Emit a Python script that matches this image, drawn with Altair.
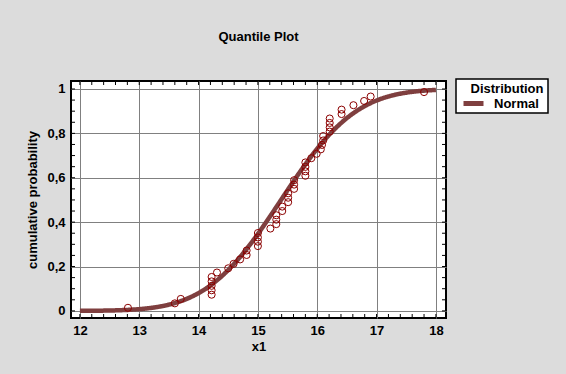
import altair as alt
import pandas as pd

# ---- data ----
x_values = [12.81, 13.60, 13.70, 14.22, 14.22, 14.22, 14.22, 14.22, 14.31, 14.50,
            14.59, 14.70, 14.81, 14.81, 15.00, 15.00, 15.00, 15.00, 15.21, 15.31,
            15.31, 15.31, 15.41, 15.41, 15.51, 15.51, 15.51, 15.61, 15.61, 15.61,
            15.80, 15.80, 15.80, 15.80, 15.90, 15.99, 16.06, 16.08, 16.10, 16.10,
            16.21, 16.21, 16.21, 16.21, 16.41, 16.41, 16.61, 16.79, 16.90, 17.80]
cum_prob = [0.014, 0.034, 0.054, 0.073, 0.093, 0.113, 0.133, 0.153, 0.173, 0.192,
            0.212, 0.232, 0.252, 0.272, 0.292, 0.312, 0.331, 0.351, 0.371, 0.391,
            0.411, 0.431, 0.450, 0.470, 0.490, 0.510, 0.530, 0.550, 0.569, 0.589,
            0.609, 0.629, 0.649, 0.669, 0.688, 0.708, 0.728, 0.748, 0.768, 0.788,
            0.808, 0.827, 0.847, 0.867, 0.887, 0.907, 0.927, 0.946, 0.966, 0.986]
fit_mean = 15.39
fit_sd = 0.99
x_tick_labels = [12, 13, 14, 15, 16, 17, 18]
y_tick_labels = [0, 0.2, 0.4, 0.6, 0.8, 1.0]
x_minor = [round(12 + 0.2 * i, 2) for i in range(31)]
y_minor = [round(0.05 * i, 2) for i in range(21)]
legend_title = "Distribution"
series_name = "Normal"

# ---- style ----
W, H = 375, 237
FONT = "Liberation Sans"
LINE_C = "#7F3F3F"
PT_C = "#8B0000"
GRID_C = "#808080"

xs = alt.Scale(domain=[11.85, 18.17], nice=False, zero=False)
ys = alt.Scale(domain=[-0.032, 1.036], nice=False, zero=False)

x_axis = alt.Axis(values=x_tick_labels, title="x1", grid=True, ticks=False, tickSize=0,
                  domain=False, labelFontSize=13, labelFont=FONT, labelFontWeight="bold",
                  labelColor="black", labelPadding=6, labelFlush=False,
                  titleFontSize=13, titleFont=FONT, titleFontWeight="bold",
                  titleColor="black", titlePadding=3,
                  gridColor=GRID_C, gridWidth=1, gridOpacity=1)
y_axis = alt.Axis(values=y_tick_labels, title="cumulative probability", grid=True,
                  ticks=False, tickSize=0, domain=False, labelFontSize=13, labelFont=FONT,
                  labelFontWeight="bold", labelColor="black", labelPadding=6,
                  labelFlush=False,
                  labelExpr="datum.value == 0 ? '0' : datum.value == 1 ? '1' : replace(format(datum.value, '.1f'), '.', ',')",
                  titleFontSize=13, titleFont=FONT, titleFontWeight="bold",
                  titleColor="black", titlePadding=7,
                  gridColor=GRID_C, gridWidth=1, gridOpacity=1)

pts_df = pd.DataFrame({"x1": x_values, "p": cum_prob})

curve = alt.Chart(alt.sequence(12, 18.001, 0.01, as_="x")).transform_calculate(
    F=f"cumulativeNormal(datum.x, {fit_mean}, {fit_sd})", dist=f"'{series_name}'"
).mark_line(strokeWidth=4.5).encode(
    x=alt.X("x:Q", scale=xs, axis=x_axis),
    y=alt.Y("F:Q", scale=ys, axis=y_axis),
    color=alt.Color("dist:N", scale=alt.Scale(domain=[series_name], range=[LINE_C]),
                    legend=alt.Legend(title=None, orient="none", legendX=390, legendY=10,
                                      padding=0, labelFontSize=13, labelFont=FONT,
                                      labelFontWeight="bold", labelColor="black",
                                      symbolType="stroke", symbolStrokeWidth=5,
                                      symbolSize=400, labelOffset=8, zindex=2)),
)

points = alt.Chart(pts_df).mark_point(shape="circle", filled=False, size=50,
                                      strokeWidth=1, color=PT_C, opacity=1).encode(
    x=alt.X("x1:Q", scale=xs, axis=x_axis),
    y=alt.Y("p:Q", scale=ys, axis=y_axis),
)

xt = pd.DataFrame({"t": x_minor})
yt = pd.DataFrame({"t": y_minor})
tick_bottom = alt.Chart(xt).mark_rule(color="black", strokeWidth=1).encode(
    x=alt.X("t:Q", scale=xs, axis=x_axis), y=alt.value(H), y2=alt.value(H - 4))
tick_top = alt.Chart(xt).mark_rule(color="black", strokeWidth=1).encode(
    x=alt.X("t:Q", scale=xs, axis=x_axis), y=alt.value(0), y2=alt.value(4))
tick_left = alt.Chart(yt).mark_rule(color="black", strokeWidth=1).encode(
    y=alt.Y("t:Q", scale=ys, axis=y_axis), x=alt.value(0), x2=alt.value(4))
tick_right = alt.Chart(yt).mark_rule(color="black", strokeWidth=1).encode(
    y=alt.Y("t:Q", scale=ys, axis=y_axis), x=alt.value(W), x2=alt.value(W - 4))

one = pd.DataFrame({"a": [0]})
legend_box = alt.Chart(one).mark_rect(fill="white", stroke="black", strokeWidth=1.5).encode(
    x=alt.value(385), x2=alt.value(477), y=alt.value(-2), y2=alt.value(32))
legend_head = alt.Chart(one).mark_text(text=legend_title, font=FONT, fontSize=13,
                                       fontWeight="bold", color="black", align="center",
                                       baseline="middle").encode(
    x=alt.value(436), y=alt.value(8))

chart = alt.layer(
    curve, points, tick_bottom, tick_top, tick_left, tick_right, legend_box, legend_head
).properties(
    width=W, height=H,
    padding={"left": 71, "top": 81, "right": 120, "bottom": 56},
    autosize=alt.AutoSizeParams(type="none"),
    background="#DCDCDC",
    title=alt.TitleParams("Quantile Plot", font=FONT, fontSize=13, fontWeight="bold",
                          color="black", anchor="middle", frame="group", offset=34),
).configure_view(stroke="black", strokeWidth=2, fill="white")

chart.save("out.html", embed_options={"renderer": "svg", "actions": False})
